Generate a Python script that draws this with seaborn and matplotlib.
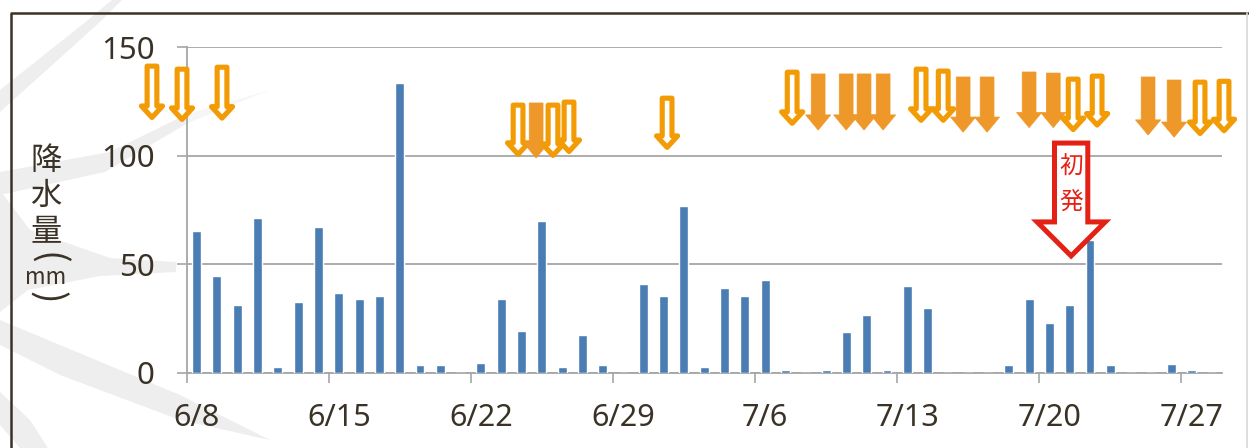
import matplotlib
matplotlib.use("Agg")
import matplotlib.pyplot as plt
import pandas as pd
import seaborn as sns
from matplotlib.patches import Polygon

days = pd.date_range("2015-06-08", periods=51).strftime("%-m/%-d").tolist()
rain = [65.5, 44.5, 31, 71.5, 2.5, 32.5, 67, 36.5, 34, 35.5, 133.5, 3.5, 3.5, 0, 4.5, 34, 19,
        70, 2.5, 17.5, 3.5, 0, 41, 35.5, 77, 2.5, 39, 35.5, 42.5, 1, 0, 1, 18.5, 26.5, 1,
        40, 30, 0, 0, 0, 3.5, 34, 23, 31, 61, 3.5, 0, 0, 4, 1, 0]
label_idx = [0, 7, 14, 21, 28, 35, 42, 49]
yticks = [0, 50, 100, 150]

arrow_day = [-2.2, -0.72, 1.25, 15.83, 16.72, 17.55, 18.34, 23.17, 29.33, 30.61, 31.99, 32.87, 33.81,
             35.68, 36.77, 37.75, 38.93, 41.0, 42.19, 43.17, 44.35, 46.86, 48.14, 49.42, 50.6]
arrow_top = [142.4, 141, 141.9, 124.4, 124.4, 124.4, 125.8, 127.6, 139.6, 137.8, 137.8, 137.8, 137.8,
             141, 140.1, 136.4, 136.4, 138.7, 138.2, 136.4, 137.8, 136.4, 135, 135, 135.4]
arrow_tip = [116.5, 115.6, 116.2, 99.5, 99, 99, 100.8, 102.7, 113.8, 111.9, 111.9, 111.9, 111.9,
             115.2, 115.2, 110.9, 110.9, 113, 113, 110.9, 113, 109.6, 108.6, 109.1, 110.4]
arrow_solid = [0, 0, 0, 0, 1, 0, 0, 0, 0, 1, 1, 1, 1, 0, 0, 1, 1, 1, 1, 0, 0, 1, 1, 0, 0]
first_day, first_top, first_tip, first_neck = 43.07, 105.9, 52.8, 69.5

W, H = 1249, 448
INK = "#3a3226"
JP = ["Noto Sans CJK JP", "DejaVu Sans"]
sns.set_theme(style="white")
plt.rcParams["font.family"] = ["Noto Sans", "Noto Sans CJK JP", "DejaVu Sans"]

fig = plt.figure(figsize=(W / 100, H / 100), dpi=100, facecolor="white")
L, R, T, B = 186.5, 1222, 47.5, 372.5
ax = fig.add_axes([L / W, 1 - B / H, (R - L) / W, (B - T) / H])
ax.patch.set_alpha(0)


def px(points):
    return [(x / W, 1 - y / H) for x, y in points]


streaks = [
    ([(0, 112), (100, 22), (122, 0), (112, 0), (88, 20), (0, 90)], "#eeeeee"),
    ([(0, 195), (0, 172), (110, 152), (185, 115), (186, 124), (105, 172)], "#eeeeee"),
    ([(186, 124), (185, 115), (270, 90), (210, 114)], "#f6f6f6"),
    ([(0, 190), (30, 230), (110, 258), (176, 262), (176, 272), (100, 276), (28, 290), (0, 312)], "#eeeeee"),
    ([(0, 320), (60, 345), (180, 395), (270, 440), (180, 420), (60, 375), (0, 345)], "#eeeeee"),
    ([(0, 392), (30, 420), (48, 448), (20, 448), (0, 425)], "#eeeeee"),
]
for pts, col in streaks:
    fig.add_artist(Polygon(px(pts), closed=True, transform=fig.transFigure, fc=col, ec="none", zorder=-5))
fig.add_artist(plt.Line2D([11 / W, 11 / W, 1 - 1 / W], [0, 1 - 13 / H, 1 - 13 / H],
                          transform=fig.transFigure, color=INK, lw=1.8, zorder=-4))
fig.add_artist(plt.Line2D([1247 / W, 1247 / W], [0, 1 - 13 / H], transform=fig.transFigure,
                          color="#d8d8d8", lw=1.2, zorder=-4))

df = pd.DataFrame({"day": days, "rain": rain})
sns.barplot(data=df, x="day", y="rain", order=days, color="#4a7db3", saturation=1, width=0.44, ax=ax, zorder=3)

ax.set_xlim(-0.5, 50.5)
ax.set_ylim(0, 150)
ax.set_xlabel("")
ax.set_ylabel("")
ax.set_yticks(yticks)
ax.set_xticks([i - 0.5 for i in label_idx])
ax.set_xticklabels([])
ax.set_xticks(label_idx, [days[i] for i in label_idx], minor=True)
ax.tick_params(axis="x", which="major", length=7.5, width=1.2, color="#a6a6a6", bottom=True)
ax.tick_params(axis="x", which="minor", length=0, pad=22, labelsize=22, labelcolor=INK, bottom=False)
ax.tick_params(axis="y", length=7.5, width=1.2, color="#a6a6a6", left=True, pad=15.5, labelsize=22.5, labelcolor=INK)
ax.grid(axis="y", color="#a6a6a6", lw=1.3)
ax.set_axisbelow(True)
for side in ("top", "right"):
    ax.spines[side].set_visible(False)
for side in ("left", "bottom"):
    ax.spines[side].set_color("#a6a6a6")
    ax.spines[side].set_linewidth(1.3)
    ax.spines[side].set_zorder(2)


def down_arrow(day, top, tip, shaft, head, neck, **kw):
    pts = [(day - shaft, top), (day + shaft, top), (day + shaft, neck), (day + head, neck),
           (day, tip), (day - head, neck), (day - shaft, neck)]
    ax.add_patch(Polygon(pts, closed=True, clip_on=False, zorder=5, **kw))


for d, t, p, s in zip(arrow_day, arrow_top, arrow_tip, arrow_solid):
    if s:
        down_arrow(d, t, p, 0.34, 0.62, p + 7, fc="#ef982a", ec="#ef982a", lw=0.5)
    else:
        down_arrow(d, t - 1, p + 1.2, 0.24, 0.52, p + 6.5, fc="white", ec="#f29b05", lw=3.7, joinstyle="round")

down_arrow(first_day, first_top, first_tip + 1, 0.82, 1.68, first_neck, fc="white", ec="#e32114", lw=3.6, joinstyle="miter")
ax.text(first_day, 94.8, "初", color="#e32114", fontsize=17, family=JP, ha="center", va="center", zorder=6)
ax.text(first_day, 78.2, "発", color="#e32114", fontsize=17, family=JP, ha="center", va="center", zorder=6)

for ch, y, size in [("降", 161, 22.5), ("水", 196, 22.5), ("量", 232, 22.5), ("mm", 278, 16)]:
    fig.text(46 / W, 1 - y / H, ch, color=INK, fontsize=size, family=JP, ha="center", va="center")
fig.text(46 / W, 1 - 258 / H, "(", color=INK, fontsize=27, family=JP, ha="center", va="center", rotation=-90, rotation_mode="anchor")
fig.text(46 / W, 1 - 297 / H, ")", color=INK, fontsize=27, family=JP, ha="center", va="center", rotation=-90, rotation_mode="anchor")

fig.savefig("out.png", dpi=100, facecolor="white")
